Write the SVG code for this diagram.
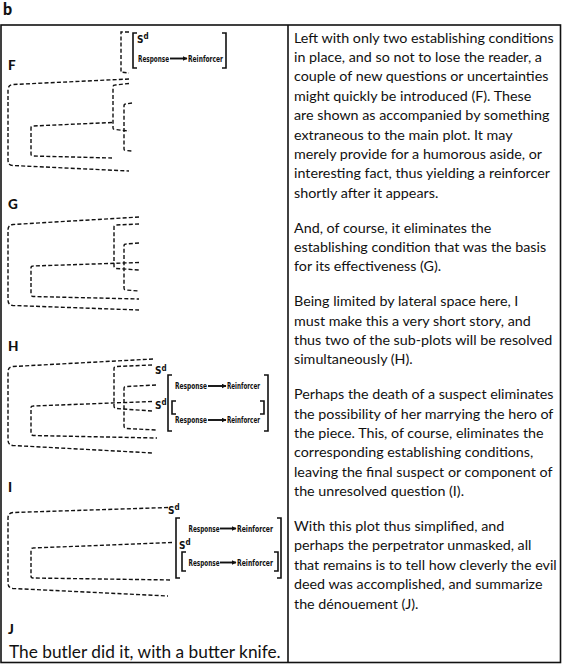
<svg xmlns="http://www.w3.org/2000/svg" width="562" height="665" viewBox="0 0 562 665">
<style>
.dash{fill:none;stroke:#111;stroke-width:1.4;stroke-dasharray:4 2.2}
.br{fill:none;stroke:#111;stroke-width:1.6}
.frame{fill:none;stroke:#111;stroke-width:1.6}
.lbl{font-family:Lato,'Noto Sans',sans-serif;font-weight:900;font-size:13.5px;fill:#111}
.body{font-family:Lato,'Noto Sans',sans-serif;font-size:14.3px;fill:#111}
.rr{font-family:'DejaVu Sans Condensed','Liberation Sans Narrow',sans-serif;font-weight:bold;font-size:8.5px;fill:#111}
.sd{font-family:'DejaVu Sans Condensed','Liberation Sans Narrow',sans-serif;font-weight:bold;font-size:10px;fill:#111}
.sup{font-size:8px}
.arr{stroke:#111;stroke-width:1.9;fill:none}
</style>
<defs>
<marker id="ah" markerWidth="5" markerHeight="5" refX="4.5" refY="2.5" orient="auto" markerUnits="userSpaceOnUse"><path d="M0,0 L5,2.5 L0,5 z" fill="#111"/></marker>
</defs>
<rect fill="#fff" x="0" y="0" width="562" height="665"/>
<text x="3" y="15" class="lbl" style="font-size:16px">b</text>
<rect class="frame" x="1" y="25" width="559.5" height="637.5"/>
<line class="frame" x1="288" y1="25" x2="288" y2="662.5"/>

<g id="panel-F">
<text x="8" y="70" class="lbl">F</text>
<path class="dash" d="M129 32 L121 32 L121 72 L129 73"/>
<path class="br" d="M137 33 L133 33 L133 68 L137 68"/>
<path class="br" d="M222 33 L226 33 L226 68 L222 68"/>
<text x="137" y="42.5" class="sd">S<tspan class="sup" dy="-3.5">d</tspan></text>
<text x="138" y="61.5" class="rr" textLength="31" lengthAdjust="spacingAndGlyphs">Response</text>
<text x="188" y="61.5" class="rr" textLength="35" lengthAdjust="spacingAndGlyphs">Reinforcer</text>
<path class="dash" d="M129 79 L13 84.5 Q8 85 8 90 L8 160 Q8 165.5 13 165.5 L129 171"/>
<path class="dash" d="M129 83.5 L115 85 Q113 85 113 87 L113 128 Q113 129.5 115 129.5 L129 131"/>
<path class="dash" d="M112 122.5 L33 126 Q31 126 31 128 L31 154 Q31 156 33 156 L112 158"/>
<path class="dash" d="M132 103 L126 104 Q124 104 124 106 L124 149 Q124 150.5 126 150.5 L132 151"/>
</g>

<g id="panel-G">
<text x="8" y="208.5" class="lbl">G</text>
<path class="dash" d="M139 217 L13 224.5 Q8 225 8 230 L8 300 Q8 305 13 305.5 L139 310"/>
<path class="dash" d="M139 224 L116 225 Q114 225 114 227 L114 266 Q114 268 116 268.5 L139 270"/>
<path class="dash" d="M139 262.5 L33 266 Q31 266 31 268 L31 294 Q31 296 33 296.5 L139 299"/>
<path class="dash" d="M139 243 L126 244 Q124 244 124 246 L124 288 Q124 290 126 290 L139 291"/>
</g>

<g id="panel-H">
<text x="8" y="350.5" class="lbl">H</text>
<path class="dash" d="M153 359 L13 366.5 Q8 367 8 372 L8 440 Q8 445 13 445.5 L153 453"/>
<path class="dash" d="M152 365 L116 366.5 Q114 366.5 114 368.5 L114 406 Q114 408 116 408.5 L152 411"/>
<path class="dash" d="M152 401.5 L33 406 Q31 406 31 408 L31 433 Q31 435 33 435.5 L157 438"/>
<path class="dash" d="M156 385 L126 386.5 Q124 386.5 124 388.5 L124 426 Q124 428 126 428.5 L156 430"/>
<text x="155" y="374" class="sd">S<tspan class="sup" dy="-3.5">d</tspan></text>
<text x="155" y="408.5" class="sd">S<tspan class="sup" dy="-3.5">d</tspan></text>
<path class="br" d="M172 375 L168 375 L168 431 L172 431"/>
<path class="br" d="M264 375 L268 375 L268 431 L264 431"/>
<path class="br" d="M176 401 L172 401 L172 414 L176 414"/>
<path class="br" d="M260 401 L264 401 L264 414 L260 414"/>
<text x="175" y="389" class="rr" textLength="32" lengthAdjust="spacingAndGlyphs">Response</text>
<text x="227" y="389" class="rr" textLength="33" lengthAdjust="spacingAndGlyphs">Reinforcer</text>
<text x="175" y="423" class="rr" textLength="32" lengthAdjust="spacingAndGlyphs">Response</text>
<text x="227" y="423" class="rr" textLength="33" lengthAdjust="spacingAndGlyphs">Reinforcer</text>
</g>

<g id="panel-I">
<text x="8" y="492" class="lbl">I</text>
<path class="dash" d="M168 507.5 L13 512.5 Q8 513 8 518 L8 583 Q8 588 13 588.5 L168 596"/>
<path class="dash" d="M172 542.5 L33 548 Q31 548 31 550 L31 576 Q31 578 33 578 L172 580"/>
<text x="168" y="513.5" class="sd">S<tspan class="sup" dy="-3.5">d</tspan></text>
<text x="179" y="548.5" class="sd">S<tspan class="sup" dy="-3.5">d</tspan></text>
<path class="br" d="M180 518 L176 518 L176 578 L180 578"/>
<path class="br" d="M277 518 L281 518 L281 578 L277 578"/>
<path class="br" d="M186 552 L182 552 L182 571 L186 571"/>
<path class="br" d="M274 552 L278 552 L278 571 L274 571"/>
<text x="188.5" y="531.5" class="rr" textLength="31" lengthAdjust="spacingAndGlyphs">Response</text>
<text x="237" y="531.5" class="rr" textLength="36" lengthAdjust="spacingAndGlyphs">Reinforcer</text>
<text x="188.5" y="565.5" class="rr" textLength="31" lengthAdjust="spacingAndGlyphs">Response</text>
<text x="237" y="565.5" class="rr" textLength="36" lengthAdjust="spacingAndGlyphs">Reinforcer</text>
</g>

<g id="panel-J">
<text x="8" y="634" class="lbl">J</text>
<text x="9" y="658" class="body" style="font-size:17.3px">The butler did it, with a butter knife.</text>
</g>

<g id="connectors">
<line class="arr" x1="170" y1="58.5" x2="187" y2="58.5" marker-end="url(#ah)"/>
<line class="arr" x1="208" y1="386" x2="226" y2="386" marker-end="url(#ah)"/>
<line class="arr" x1="208" y1="420" x2="226" y2="420" marker-end="url(#ah)"/>
<line class="arr" x1="220" y1="528.5" x2="236" y2="528.5" marker-end="url(#ah)"/>
<line class="arr" x1="220" y1="562.5" x2="236" y2="562.5" marker-end="url(#ah)"/>
</g>

<g id="narrative" class="body">
<text x="294" y="42.5">Left with only two establishing conditions</text>
<text x="294" y="61.9">in place, and so not to lose the reader, a</text>
<text x="294" y="81.3">couple of new questions or uncertainties</text>
<text x="294" y="100.7">might quickly be introduced (F). These</text>
<text x="294" y="120.1">are shown as accompanied by something</text>
<text x="294" y="139.5">extraneous to the main plot. It may</text>
<text x="294" y="158.9">merely provide for a humorous aside, or</text>
<text x="294" y="178.3">interesting fact, thus yielding a reinforcer</text>
<text x="294" y="197.7">shortly after it appears.</text>
<text x="294" y="232.5">And, of course, it eliminates the</text>
<text x="294" y="251.9">establishing condition that was the basis</text>
<text x="294" y="271.3">for its effectiveness (G).</text>
<text x="294" y="306.1">Being limited by lateral space here, I</text>
<text x="294" y="325.5">must make this a very short story, and</text>
<text x="294" y="344.9">thus two of the sub-plots will be resolved</text>
<text x="294" y="364.3">simultaneously (H).</text>
<text x="294" y="399.1">Perhaps the death of a suspect eliminates</text>
<text x="294" y="418.5">the possibility of her marrying the hero of</text>
<text x="294" y="437.9">the piece. This, of course, eliminates the</text>
<text x="294" y="457.3">corresponding establishing conditions,</text>
<text x="294" y="476.7">leaving the final suspect or component of</text>
<text x="294" y="496.1">the unresolved question (I).</text>
<text x="294" y="530.9">With this plot thus simplified, and</text>
<text x="294" y="550.3">perhaps the perpetrator unmasked, all</text>
<text x="294" y="569.7">that remains is to tell how cleverly the evil</text>
<text x="294" y="589.1">deed was accomplished, and summarize</text>
<text x="294" y="608.5">the dénouement (J).</text>
</g>
</svg>
